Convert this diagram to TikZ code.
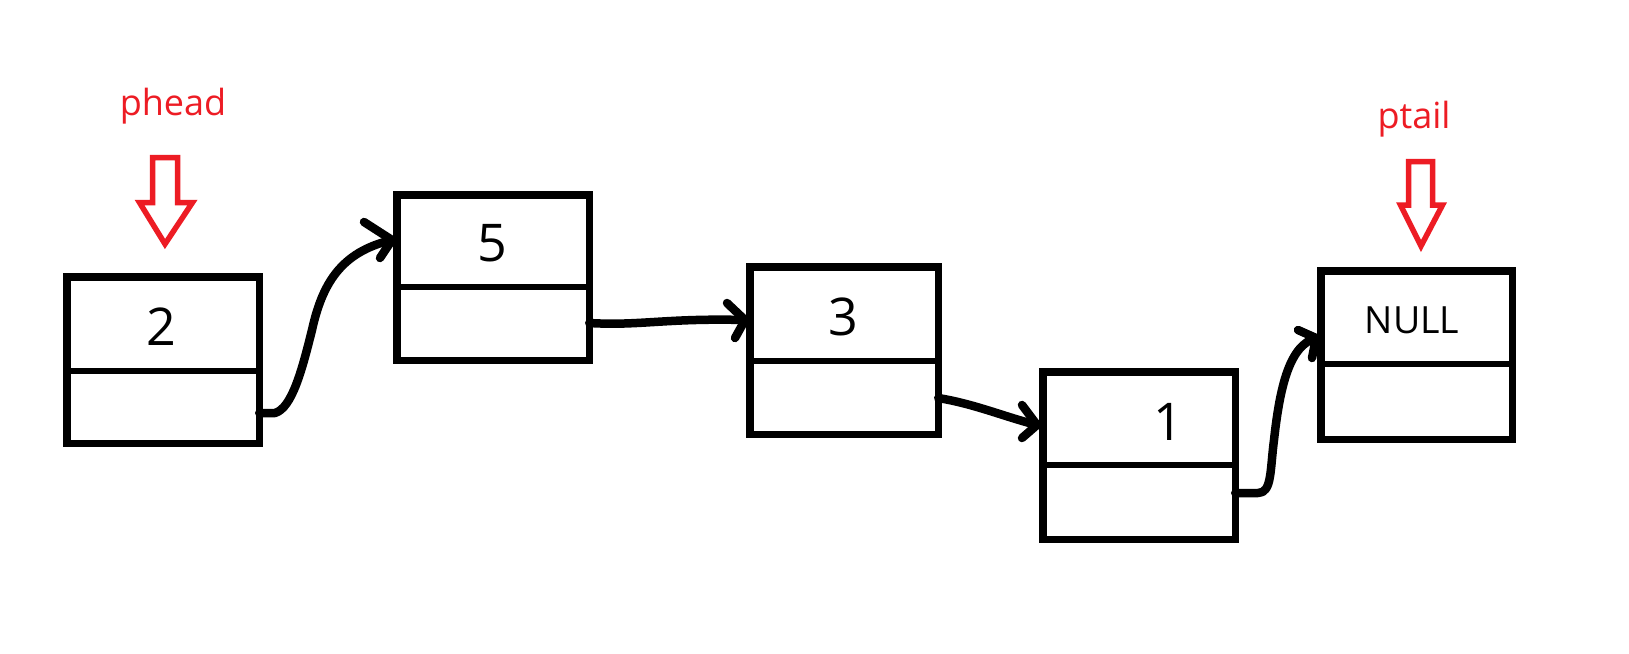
\documentclass[tikz,border=0pt]{standalone}
\usepackage{fontspec}
\setmainfont{Open Sans}
\definecolor{pred}{RGB}{237,28,36}
\begin{document}
\begin{tikzpicture}[x=1pt,y=-1pt,
 cell/.style={draw=black, line width=7.5pt, inner sep=0pt, outer sep=0pt},
 divider/.style={line width=6.5pt},
 link/.style={line width=8.5pt, line cap=round, line join=round},
 digit/.style={font=\fontsize{52}{60}\selectfont, inner sep=0pt},
 nulltext/.style={font=\fontsize{37.5}{42}\selectfont, inner sep=0pt},
 ptr/.style={draw=pred, line width=5.5pt, line join=miter},
 ptrlabel/.style={text=pred, font=\fontsize{36}{40}\selectfont, inner sep=0pt, anchor=base}]
\useasboundingbox (0,0) rectangle (1629,653);
\fill[white] (0,0) rectangle (1629,653);

% boxes
\node[cell, minimum width=192.5pt, minimum height=166.5pt] (A) at (163,360) {};
\node[cell, minimum width=192.5pt, minimum height=165.5pt] (B) at (493,277.5) {};
\node[cell, minimum width=188.5pt, minimum height=167.5pt] (C) at (844,350.5) {};
\node[cell, minimum width=192.5pt, minimum height=167.5pt] (D) at (1139,455.5) {};
\node[cell, minimum width=191.5pt, minimum height=168.5pt] (E) at (1416.5,355) {};

% dividers
\draw[divider] ([yshift=-11pt]A.west) -- ([yshift=-11pt]A.east);
\draw[divider] ([yshift=-9.5pt]B.west) -- ([yshift=-9.5pt]B.east);
\draw[divider] ([yshift=-10.5pt]C.west) -- ([yshift=-10.5pt]C.east);
\draw[divider] ([yshift=-9.5pt]D.west) -- ([yshift=-9.5pt]D.east);
\draw[divider] ([yshift=-9pt]E.west) -- ([yshift=-9pt]E.east);

% values
\node[digit] (vA) at (161,327) {2};
\node[digit] (vB) at (492,243) {5};
\node[digit] (vC) at (843,317) {3};
\node[digit] (vD) at (1168,422) {1};
\node[nulltext] (vE) at (1412,320) {NULL};

% pointer labels and arrows
\node[ptrlabel] (ph) at (173,115) {phead};
\node[ptrlabel] (pt) at (1414,128) {ptail};
\draw[ptr] (152.5,157.5) -- (177.5,157.5) -- (177.5,202.5) -- (192.5,202.5) -- (165,244) -- (139.5,202.5) -- (152.5,202.5) -- cycle;
\draw[ptr] (1408.5,161.5) -- (1432.5,161.5) -- (1432.5,205) -- (1442.5,205) -- (1421,246) -- (1400.5,205) -- (1408.5,205) -- cycle;

% connectors
\coordinate (tAB) at (392,240);
\draw[link] ([yshift=-53pt]A.east) -- (275,413) .. controls (292,408) and (302,370) .. (312,330) .. controls (322,285) and (340,252) .. (tAB);
\draw[link] (364,222) -- (tAB) -- (380,258);

\coordinate (tBC) at (745,320);
\draw[link] ([yshift=-45.5pt]B.east) .. controls (640,326) and (665,318) .. (tBC);
\draw[link] (727,303) -- (tBC) -- (735,338);

\coordinate (tCD) at (1037,425);
\draw[link] ([yshift=-47.5pt]C.east) .. controls (975,404) and (1005,417) .. (tCD);
\draw[link] (1022,405) -- (tCD) -- (1022,438);

\coordinate (tDE) at (1316,338);
\draw[link] ([yshift=-37.5pt]D.east) -- (1258,493) .. controls (1272,493) and (1270,470) .. (1274,440) .. controls (1280,385) and (1290,345) .. (tDE);
\draw[link] (1298,330) -- (tDE) -- (1312,358);
\end{tikzpicture}
\end{document}
